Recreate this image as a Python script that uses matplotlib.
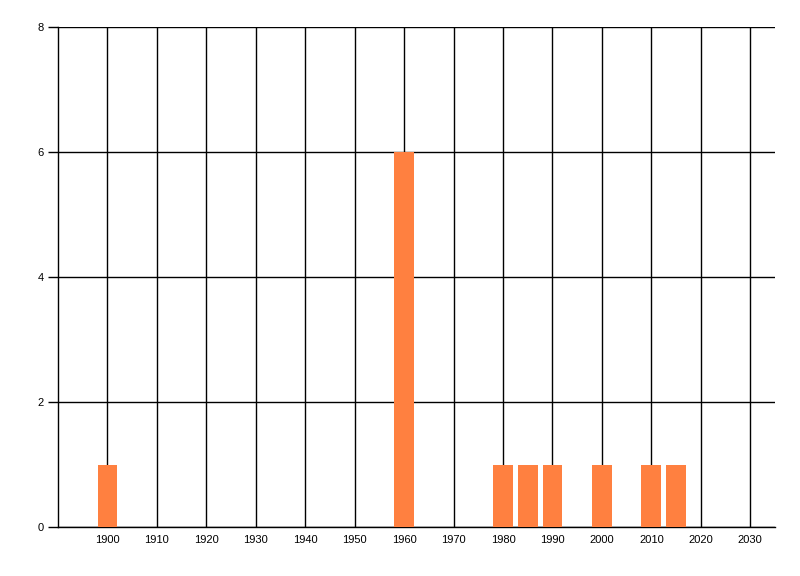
import matplotlib
matplotlib.use("Agg")
import matplotlib.pyplot as plt

years = [1900, 1960, 1980, 1985, 1990, 2000, 2010, 2015]
counts = [1, 6, 1, 1, 1, 1, 1, 1]
xticks = list(range(1900, 2031, 10))
yticks = [0, 2, 4, 6, 8]

plt.rcParams['font.family'] = ['Liberation Sans', 'DejaVu Sans']
fig = plt.figure(figsize=(8, 5.76), dpi=100)
ax = fig.add_axes([58/800, 1-527/576, (775-58)/800, 500/576])

ax.bar(years, counts, width=4, color='#FF8040', zorder=3)
ax.set_xlim(1890, 2035)
ax.set_ylim(0, 8)
ax.set_xticks(xticks)
ax.set_xticklabels([str(t) for t in xticks])
ax.set_yticks(yticks)
ax.grid(True, color='black', linewidth=1, zorder=1)
ax.set_axisbelow(True)
for s in ['top', 'right']:
    ax.spines[s].set_visible(False)
for s in ['left', 'bottom']:
    ax.spines[s].set_linewidth(1)
    ax.spines[s].set_color('black')
ax.tick_params(axis='x', length=0, pad=6, labelsize=8)
ax.tick_params(axis='y', length=7, width=1, pad=3, labelsize=8)

fig.savefig('out.png', dpi=100)
